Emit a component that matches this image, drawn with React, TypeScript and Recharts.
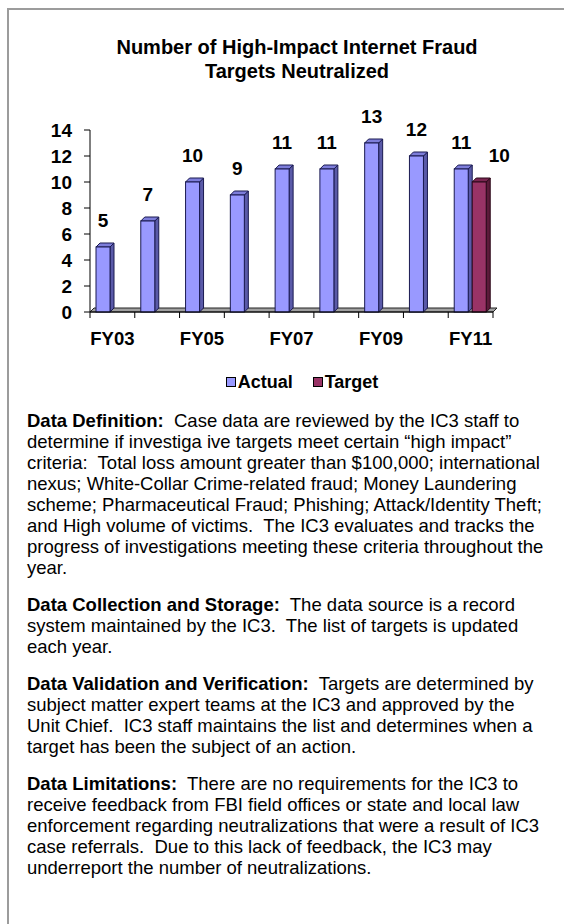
import React from 'react';
import { BarChart, Bar, XAxis, YAxis, LabelList, ReferenceArea } from 'recharts';

const categories = ['FY03', 'FY04', 'FY05', 'FY06', 'FY07', 'FY08', 'FY09', 'FY10', 'FY11'];
const actualValues = [5, 7, 10, 9, 11, 11, 13, 12, 11];
const targetValues: (number | null)[] = [null, null, null, null, null, null, null, null, 10];
const yTicks = [0, 2, 4, 6, 8, 10, 12, 14];
const seriesNames = ['Actual', 'Target'];
const titleLines = ['Number of High-Impact Internet Fraud', 'Targets Neutralized'];

const paragraphs: { head: string; lines: string[] }[] = [
  {
    head: 'Data Definition:',
    lines: [
      '  Case data are reviewed by the IC3 staff to',
      'determine if investiga ive targets meet certain \u201chigh impact\u201d',
      'criteria:  Total loss amount greater than $100,000; international',
      'nexus; White-Collar Crime-related fraud; Money Laundering',
      'scheme; Pharmaceutical Fraud; Phishing; Attack/Identity Theft;',
      'and High volume of victims.  The IC3 evaluates and tracks the',
      'progress of investigations meeting these criteria throughout the',
      'year.',
    ],
  },
  {
    head: 'Data Collection and Storage:',
    lines: [
      '  The data source is a record',
      'system maintained by the IC3.  The list of targets is updated',
      'each year.',
    ],
  },
  {
    head: 'Data Validation and Verification:',
    lines: [
      '  Targets are determined by',
      'subject matter expert teams at the IC3 and approved by the',
      'Unit Chief.  IC3 staff maintains the list and determines when a',
      'target has been the subject of an action.',
    ],
  },
  {
    head: 'Data Limitations:',
    lines: [
      '  There are no requirements for the IC3 to',
      'receive feedback from FBI field offices or state and local law',
      'enforcement regarding neutralizations that were a result of IC3',
      'case referrals.  Due to this lack of feedback, the IC3 may',
      'underreport the number of neutralizations.',
    ],
  },
];

const data = categories.map((c, i) => ({ name: c, Actual: actualValues[i], Target: targetValues[i] }));

const FONT = '"Liberation Sans", Arial, Helvetica, sans-serif';
const DEPTH = 4;

const palette: Record<string, { front: string; side: string; top: string; stroke: string }> = {
  Actual: { front: '#9999FF', side: '#5A5AA8', top: '#7D7DDA', stroke: '#1A1A50' },
  Target: { front: '#993366', side: '#5C1A3A', top: '#7A2550', stroke: '#2A0818' },
};

const make3DBar = (key: string) => (props: any) => {
  const { x, y, width, height, value } = props;
  if (value === null || value === undefined || !height || height <= 0) return <g />;
  const c = palette[key];
  const d = DEPTH;
  return (
    <g>
      <polygon
        points={`${x + width},${y} ${x + width + d},${y - d} ${x + width + d},${y + height - d} ${x + width},${y + height}`}
        fill={c.side}
        stroke={c.stroke}
        strokeWidth={1}
      />
      <polygon
        points={`${x},${y} ${x + d},${y - d} ${x + width + d},${y - d} ${x + width},${y}`}
        fill={c.top}
        stroke={c.stroke}
        strokeWidth={1}
      />
      <rect x={x} y={y} width={width} height={height} fill={c.front} stroke={c.stroke} strokeWidth={1} />
    </g>
  );
};

const FloorShape = (props: any) => {
  const { x, y, width, height } = props;
  const base = y + height;
  const d = DEPTH;
  return (
    <polygon
      points={`${x},${base} ${x + width},${base} ${x + width + d},${base - d} ${x + d},${base - d}`}
      fill="#A0A0A0"
      stroke="#222"
      strokeWidth={1}
    />
  );
};

const XTick = (props: any) => {
  const { x, y, payload, index, width, visibleTicksCount } = props;
  const half = payload && payload.offset ? payload.offset : width / visibleTicksCount / 2;
  const left = x - half;
  const right = x + half;
  const isLast = index === visibleTicksCount - 1;
  return (
    <g>
      <line x1={left} y1={y} x2={left} y2={y + 6} stroke="#000" strokeWidth={1} />
      {isLast && <line x1={right} y1={y} x2={right} y2={y + 6} stroke="#000" strokeWidth={1} />}
      {index % 2 === 0 && (
        <text x={x} y={y + 33} textAnchor="middle" fontFamily={FONT} fontWeight="bold" fontSize={18.5} fill="#000">
          {payload.value}
        </text>
      )}
    </g>
  );
};

const makeLabel = (dx: number) => (props: any) => {
  const { x, y, width, value } = props;
  if (value === null || value === undefined) return null;
  return (
    <text x={x + width / 2 + dx} y={y - 20} textAnchor="middle" fontFamily={FONT} fontWeight="bold" fontSize={19} fill="#000">
      {value}
    </text>
  );
};

export default function App() {
  return (
    <div style={{ position: 'absolute', left: 0, top: 0, width: 564, height: 924, overflow: 'hidden', background: '#fff', fontFamily: FONT }}>
      <div
        style={{
          position: 'absolute',
          left: 7,
          top: 8,
          width: 700,
          height: 1000,
          borderLeft: '2px solid #9C9C9C',
          borderTop: '2px solid #9C9C9C',
        }}
      />
      <div
        style={{
          position: 'absolute',
          left: 30,
          top: 35,
          width: 534,
          textAlign: 'center',
          fontWeight: 'bold',
          fontSize: 20,
          lineHeight: '24px',
          color: '#000',
        }}
      >
        {titleLines.map((t) => (
          <div key={t}>{t}</div>
        ))}
      </div>
      <div style={{ position: 'absolute', left: 0, top: 0 }}>
        <BarChart
          width={564}
          height={360}
          data={data}
          margin={{ top: 130, right: 71, bottom: 8, left: 0 }}
          barSize={14}
          barGap={4}
        >
          <YAxis
            width={90}
            domain={[0, 14]}
            ticks={yTicks}
            interval={0}
            axisLine={{ stroke: '#000', strokeWidth: 1 }}
            tickLine={{ stroke: '#000', strokeWidth: 1 }}
            tickSize={6}
            tickMargin={12}
            tick={{ fill: '#000', fontSize: 19, fontWeight: 'bold', fontFamily: FONT }}
          />
          <XAxis
            dataKey="name"
            height={40}
            interval={0}
            axisLine={{ stroke: '#000', strokeWidth: 1 }}
            tickLine={false}
            tickSize={0}
            tickMargin={0}
            tick={<XTick />}
          />
          <ReferenceArea y1={0} y2={0.2} shape={<FloorShape />} ifOverflow="visible" />
          <Bar dataKey="Actual" isAnimationActive={false} shape={make3DBar('Actual')}>
            <LabelList dataKey="Actual" content={makeLabel(0)} />
          </Bar>
          <Bar dataKey="Target" isAnimationActive={false} shape={make3DBar('Target')}>
            <LabelList dataKey="Target" content={makeLabel(20)} />
          </Bar>
        </BarChart>
      </div>
      <div
        style={{
          position: 'absolute',
          left: 0,
          top: 370,
          width: 604,
          display: 'flex',
          justifyContent: 'center',
          fontWeight: 'bold',
          fontSize: 18,
          lineHeight: '24px',
        }}
      >
        {seriesNames.map((s, i) => (
          <div key={s} style={{ display: 'flex', alignItems: 'center', marginLeft: i === 0 ? 0 : 20 }}>
            <span
              style={{
                display: 'inline-block',
                width: 8,
                height: 8,
                background: palette[s].front,
                border: '1.5px solid #000',
                marginRight: 2,
              }}
            />
            <span>{s}</span>
          </div>
        ))}
      </div>
      <div style={{ position: 'absolute', left: 27, top: 409.5, fontSize: 18.5, lineHeight: '21px', color: '#000' }}>
        {paragraphs.map((p, pi) => (
          <div key={p.head} style={{ marginTop: pi === 0 ? 0 : 16 }}>
            {p.lines.map((l, li) => (
              <div key={li} style={{ whiteSpace: 'pre' }}>
                {li === 0 && <b>{p.head}</b>}
                {l}
              </div>
            ))}
          </div>
        ))}
      </div>
    </div>
  );
}
